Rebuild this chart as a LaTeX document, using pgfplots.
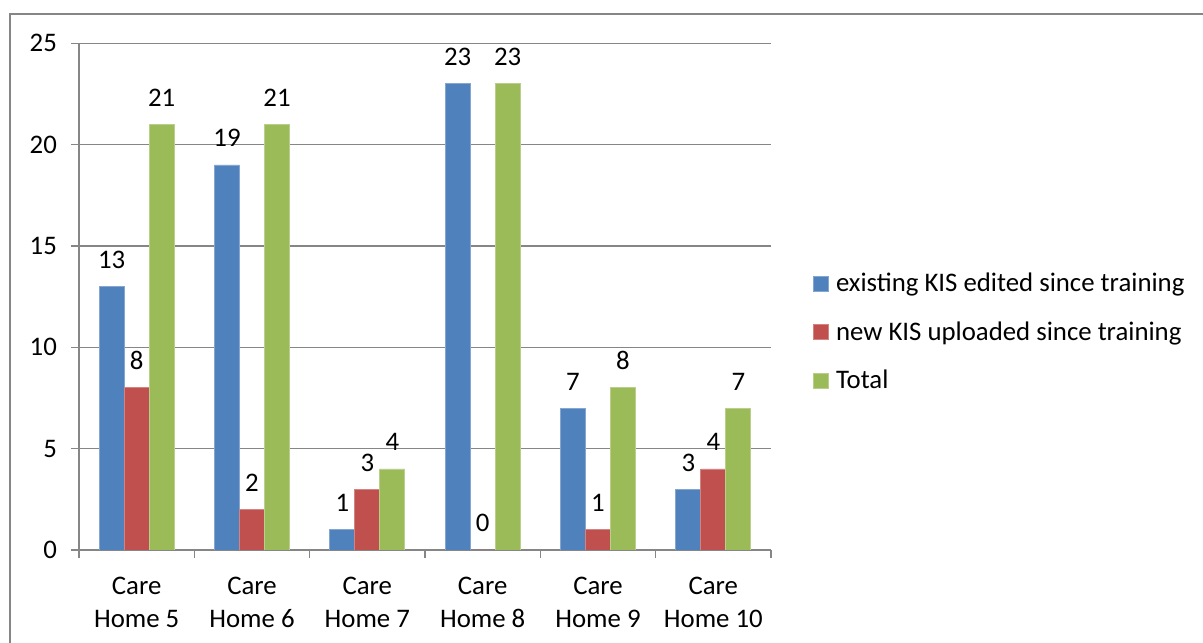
\documentclass[border=0pt]{standalone}
\usepackage{pgfplots}
\pgfplotsset{compat=1.18}
\usepackage{fontspec}
\setmainfont{Carlito}
\definecolor{cblue}{HTML}{4F81BD}
\definecolor{cred}{HTML}{C0504D}
\definecolor{cgreen}{HTML}{9BBB59}
\definecolor{cgrid}{HTML}{868686}
\newcommand{\cfont}{\fontsize{26.8pt}{33pt}\selectfont}
\begin{document}
\cfont
\begin{tikzpicture}[x=1pt,y=1pt]
\useasboundingbox (0,0) rectangle (1203,643);
\draw[cgrid, line width=2pt] (10,-10) -- (10,629) -- (1215,629);
\begin{axis}[
  at={(79pt,93pt)}, anchor=south west,
  scale only axis, width=692pt, height=506.7pt,
  xmin=-0.5, xmax=5.5, ymin=0, ymax=25,
  axis x line*=bottom, axis y line*=left,
  axis line style={cgrid, line width=1.5pt, -},
  ytick={0,5,...,25},
  ymajorgrids, grid style={cgrid, line width=1.5pt},
  tick align=outside, major tick length=8pt,
  tick style={cgrid, line width=1.5pt},
  xtick={-0.5,0.5,...,4.5},
  xticklabels={Care\\Home 5,Care\\Home 6,Care\\Home 7,Care\\Home 8,Care\\Home 9,Care\\Home 10},
  xticklabel style={align=center, xshift=57.67pt, yshift=-10pt, font=\cfont},
  extra x ticks={5.5}, extra x tick labels={},
  yticklabel style={font=\cfont, xshift=-5pt},
  /pgf/number format/assume math mode=true,
  ybar=0pt, bar width=25pt,
  nodes near coords,
  nodes near coords style={font=\cfont, anchor=base, inner sep=0pt, yshift=18pt, text=black},
  legend style={at={(rel axis cs:1.0607,0.426)}, anchor=west, draw=none, fill=none,
     inner sep=0pt, column sep=7pt, row sep=24.5pt,
     font=\cfont,
     nodes={inner sep=0pt, text height=18pt, text depth=6pt, anchor=base west}},
  legend cell align=left,
  legend image code/.code={\fill[#1] (0pt,0.5pt) rectangle (15pt,15.5pt);},
]
\addplot[fill=cblue, draw=cblue!70!white, line width=0.8pt] coordinates {(0,13) (1,19) (2,1) (3,23) (4,7) (5,3)};
\addplot[fill=cred, draw=cred!70!white, line width=0.8pt] coordinates {(0,8) (1,2) (2,3) (3,0) (4,1) (5,4)};
\addplot[fill=cgreen, draw=cgreen!70!white, line width=0.8pt] coordinates {(0,21) (1,21) (2,4) (3,23) (4,8) (5,7)};
\legend{existing KIS edited since training, new KIS uploaded since training, Total}
\end{axis}
\end{tikzpicture}
\end{document}
